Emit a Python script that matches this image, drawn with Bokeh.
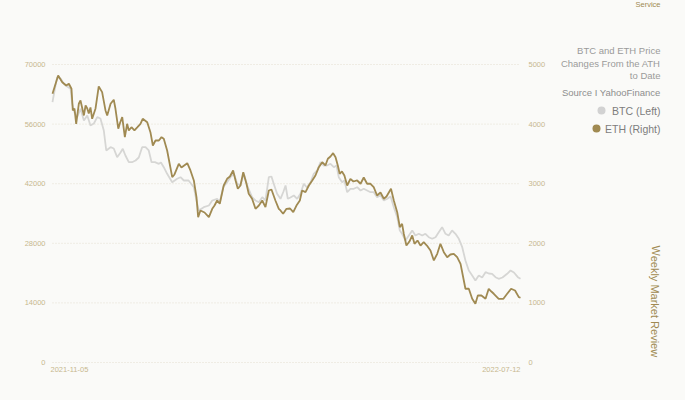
from bokeh.plotting import figure
from bokeh.models import Range1d, Label, ColumnDataSource
from bokeh.core.properties import value
from bokeh.embed import file_html
from bokeh.resources import INLINE

# ---------------- data ----------------
date_labels = ["2021-11-05", "2022-07-12"]   # first / last day (day 0 .. day 249)

btc_day = [0, 1.1, 2.5, 4.3, 6.0, 7.8, 9.6, 10.5, 11.7, 13.1,
           14.9, 16.7, 18.5, 20.2, 22.0, 23.8, 25.5, 27.3, 28.6, 30.9,
           32.6, 34.4, 36.2, 37.4, 38.8, 40.6, 42.3, 44.2, 45.9, 47.7,
           49.5, 51.2, 52.7, 54.5, 56.6, 57.7, 59.2, 61.0, 63.7, 66.3,
           68.1, 69.9, 72.4, 75.2, 76.6, 77.8, 80.5, 83.2, 85.0, 87.6,
           89.0, 90.8, 92.9, 94.7, 96.5, 98.3, 100.0, 101.8, 103.9, 106.2,
           108.0, 109.8, 111.6, 113.3, 115.1, 116.5, 117.7, 119.5, 121.3, 122.9,
           124.0, 125.2, 126.6, 128.4, 130.2, 131.9, 133.7, 135.4, 137.3, 139.0,
           140.8, 142.6, 144.3, 146.0, 147.9, 149.7, 151.1, 152.3, 154.1, 155.3,
           156.8, 158.5, 160.3, 162.1, 163.9, 165.6, 167.4, 169.2, 170.9, 172.7,
           174.5, 176.3, 178.1, 179.9, 181.6, 183.4, 184.8, 186.0, 187.8, 189.6,
           191.4, 193.1, 194.9, 196.7, 198.4, 200.2, 202.0, 203.8, 205.5, 207.3,
           209.1, 210.8, 212.6, 214.4, 216.2, 218.0, 219.7, 221.5, 223.3, 225.0,
           226.8, 228.6, 230.4, 232.1, 233.9, 235.7, 237.4, 239.4, 241.9, 243.7,
           245.5, 247.6, 249]
btc_price = [61144, 63893, 67018, 66712, 65467, 64832, 64292, 60769, 58725, 57621,
             59594, 56846, 58020, 55671, 56141, 57621, 57316, 54497, 49799, 50574,
             50269, 48225, 49329, 50198, 48624, 47050, 47050, 47450, 48155, 50574,
             50574, 49799, 47050, 47050, 46675, 46980, 45876, 44326, 42353, 43151,
             43527, 42752, 42752, 41177, 38054, 35705, 36480, 36879, 38054, 38453,
             37654, 41177, 42353, 43527, 44326, 41977, 41577, 44326, 41177, 38829,
             38054, 37654, 38829, 38054, 43527, 43691, 41977, 39628, 38453, 40168,
             41577, 38453, 38759, 39228, 38453, 39628, 41977, 41108, 42353, 44326,
             45101, 47050, 46275, 46275, 46675, 45876, 46275, 43527, 42353, 42752,
             40004, 40802, 40802, 41177, 40403, 40802, 40403, 40004, 40004, 38829,
             39228, 38054, 38453, 38993, 36480, 34131, 31007, 30232, 28658, 29832,
             31007, 29832, 30232, 29832, 30232, 29433, 29057, 29433, 30607, 31782,
             30232, 29832, 31007, 30232, 29057, 27084, 23960, 21611, 20436, 19262,
             20436, 19967, 21211, 20906, 20836, 20037, 19661, 19967, 20836, 21611,
             21141, 20037, 19661]

eth_day = [0, 3.0, 5.2, 7.3, 8.7, 10.1, 10.8, 11.7, 12.6, 14.0,
           14.9, 16.1, 16.7, 17.6, 18.5, 19.3, 20.2, 21.1, 22.9, 24.6,
           26.4, 28.2, 29.1, 30.9, 32.6, 33.5, 35.0, 36.0, 37.1, 38.5,
           39.7, 40.6, 42.0, 43.6, 45.2, 46.8, 48.0, 50.4, 52.1, 53.4,
           54.8, 56.6, 58.0, 59.2, 61.0, 63.7, 64.9, 67.2, 68.6, 71.7,
           73.4, 75.2, 76.6, 77.5, 78.7, 80.9, 83.2, 85.0, 86.2, 87.6,
           89.0, 91.1, 92.9, 94.4, 96.1, 97.4, 98.6, 100.0, 101.5, 103.2,
           104.4, 106.2, 108.0, 109.8, 111.6, 113.3, 115.1, 116.5, 118.6, 120.4,
           121.3, 122.7, 124.5, 126.4, 128.1, 129.8, 131.6, 132.8, 134.6, 136.4,
           138.2, 139.9, 141.7, 143.5, 145.2, 146.5, 147.9, 149.3, 150.6, 151.8,
           152.8, 154.0, 155.3, 156.8, 158.5, 160.1, 162.1, 163.9, 165.6, 167.4,
           169.2, 170.9, 172.7, 174.5, 176.3, 177.7, 180.1, 181.6, 183.4, 184.8,
           186.0, 186.9, 188.3, 189.9, 191.4, 192.6, 194.2, 195.8, 197.5, 199.2,
           201.1, 202.9, 204.7, 206.4, 208.2, 210.0, 211.7, 213.5, 215.3, 217.1,
           218.5, 219.7, 221.5, 223.3, 225.0, 226.3, 228.2, 230.4, 232.1, 233.5,
           234.8, 237.4, 239.9, 241.9, 244.0, 246.1, 248.1, 249]
eth_price = [4509, 4816, 4703, 4648, 4677, 4593, 4229, 4262, 4005, 4341,
             4396, 4229, 4145, 4312, 4262, 4178, 4279, 4089, 4262, 4631,
             4536, 4229, 4145, 4341, 4408, 4257, 3922, 4027, 4116, 3781,
             4005, 3893, 3948, 3893, 3948, 4005, 4089, 4032, 3864, 3641,
             3725, 3725, 3781, 3754, 3557, 3109, 3155, 3334, 3272, 3344,
             3222, 3054, 2774, 2438, 2551, 2517, 2438, 2579, 2634, 2718,
             2663, 2970, 3082, 3121, 3222, 3054, 2915, 2970, 3193, 2999,
             2831, 2747, 2579, 2634, 2718, 2606, 2886, 2903, 2718, 2579,
             2551, 2495, 2579, 2584, 2522, 2634, 2718, 2886, 2858, 2970,
             3054, 3138, 3277, 3361, 3306, 3418, 3457, 3512, 3445, 3306,
             3166, 3205, 3138, 2970, 3082, 3037, 3054, 2999, 3104, 2999,
             2999, 2942, 2802, 2853, 2747, 2785, 2915, 2718, 2522, 2270,
             2327, 2160, 1963, 2030, 2131, 1992, 2047, 1963, 2019, 1963,
             1879, 1712, 1824, 1992, 1851, 1767, 1812, 1824, 1767, 1656,
             1431, 1237, 1237, 1069, 985, 1124, 1124, 1069, 1237, 1191,
             1153, 1069, 1069, 1153, 1237, 1208, 1096, 1086]

btc_ticks = [0, 14000, 28000, 42000, 56000, 70000]
eth_ticks = [0, 1000, 2000, 3000, 4000, 5000]

title_lines = ["BTC and ETH Price", "Changes From the ATH", "to Date"]
source_text = "Source I YahooFinance"
series_names = ["BTC (Left)", "ETH (Right)"]
side_text = "Weekly Market Review"
corner_text = "Service"

# ---------------- style / geometry ----------------
BG = "#fafaf8"
GOLD = "#a08a52"
BTC_COLOR = "#d6d6d4"
BTC_DOT = "#d2d2d2"
TICK_COLOR = "#c7b88e"
GRID_COLOR = "#e4dfd0"
FONT = "Liberation Sans"

W, H = 685, 400
PL, PR, PT, PB = 52, 520, 64, 362      # plotting area in canvas pixels

x_px = (btc_day[-1] - btc_day[0]) / (PR - PL)
yb_px = (btc_ticks[-1] - btc_ticks[0]) / (PB - PT)
ye_px = (eth_ticks[-1] - eth_ticks[0]) / (PB - PT)

x_range = Range1d(btc_day[0] - PL * x_px, btc_day[-1] + (W - PR) * x_px)
y_range = Range1d(btc_ticks[0] - (H - PB) * yb_px, btc_ticks[-1] + PT * yb_px)
eth_range = Range1d(eth_ticks[0] - (H - PB) * ye_px, eth_ticks[-1] + PT * ye_px)

def dx(px):
    return x_range.start + px * x_px

def dy(py):
    return y_range.end - py * yb_px

p = figure(width=W, height=H, output_backend="svg", toolbar_location=None,
           x_range=x_range, y_range=y_range,
           x_axis_location=None, y_axis_location=None,
           min_border=0, min_border_left=0, min_border_right=0,
           min_border_top=0, min_border_bottom=0,
           background_fill_color=BG, border_fill_color=BG,
           outline_line_color=None)
p.extra_y_ranges = {"eth": eth_range}
p.xgrid.visible = False
p.ygrid.visible = False

# dotted horizontal grid lines at the tick values
n = len(btc_ticks)
p.segment(x0=[btc_day[0]] * n, x1=[btc_day[-1]] * n, y0=btc_ticks, y1=btc_ticks,
          line_color=GRID_COLOR, line_width=1, line_dash="1 2")

# tick labels (left: BTC, right: ETH)
p.text(x=[btc_day[0]] * n, y=btc_ticks, text=[str(t) for t in btc_ticks],
       x_offset=-7, text_align="right", text_baseline="middle",
       text_font=value(FONT), text_font_size="7.5px", text_color=TICK_COLOR)
p.text(x=[btc_day[-1]] * len(eth_ticks), y=eth_ticks, text=[str(t) for t in eth_ticks],
       x_offset=8, text_align="left", text_baseline="middle", y_range_name="eth",
       text_font=value(FONT), text_font_size="7.5px", text_color=TICK_COLOR)

# date labels under first / last point
p.text(x=[btc_day[0]], y=[btc_ticks[0]], text=[date_labels[0]], x_offset=-2, y_offset=7,
       text_align="left", text_baseline="middle", text_font=value(FONT),
       text_font_size="7.5px", text_color=TICK_COLOR)
p.text(x=[btc_day[-1]], y=[btc_ticks[0]], text=[date_labels[1]], y_offset=7,
       text_align="right", text_baseline="middle", text_font=value(FONT),
       text_font_size="7.5px", text_color=TICK_COLOR)

# series
btc_src = ColumnDataSource(dict(x=btc_day, y=btc_price))
eth_src = ColumnDataSource(dict(x=eth_day, y=eth_price))
p.line("x", "y", source=btc_src, line_color=BTC_COLOR, line_width=1.8)
p.line("x", "y", source=eth_src, line_color=GOLD, line_width=1.8, y_range_name="eth")

# annotations
def add_label(text, px, py, size, color, align="right", angle=0):
    p.add_layout(Label(x=dx(px), y=dy(py), text=text,
                       text_font=FONT, text_font_size=size, text_color=color,
                       text_align=align, text_baseline="middle", angle=angle))

RIGHT_X = 660
add_label(corner_text, RIGHT_X, 4, "7.5px", GOLD)
for i, line in enumerate(title_lines):
    add_label(line, RIGHT_X, 50 + 12.5 * i, "9.5px", "#9a9a9a")
add_label(source_text, RIGHT_X, 92, "9.5px", "#8e8e8e")
add_label(side_text, 655, 245, "11px", GOLD, align="left", angle=-1.5708)

# legend (right-aligned labels with a dot before each)
legend_rows = [(series_names[0], BTC_DOT, 601, 110), (series_names[1], GOLD, 596, 128)]
for name, color, dot_x, row_y in legend_rows:
    p.scatter(x=[dx(dot_x)], y=[dy(row_y)], size=8, fill_color=color, line_color=None)
    add_label(name, RIGHT_X, row_y, "10.5px", "#7d7d7d")

html = file_html(p, INLINE)
html = html.replace("<body>", '<body style="background-color:%s;">' % BG)
open("out.html", "w").write(html)
